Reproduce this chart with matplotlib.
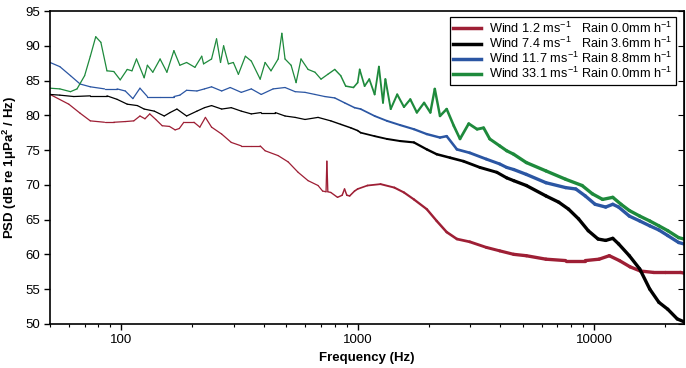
import numpy as np
import matplotlib.pyplot as plt
from matplotlib.collections import LineCollection
from matplotlib.ticker import LogLocator, NullFormatter, FixedLocator

plt.rcParams['font.family'] = ['Liberation Sans', 'DejaVu Sans']
plt.rcParams['mathtext.fontset'] = 'custom'
plt.rcParams['mathtext.rm'] = 'Liberation Sans'
plt.rcParams['mathtext.bf'] = 'Liberation Sans:bold'

# values (Hz, dB)
f_red = [50, 60, 67, 74, 85, 93, 104, 113, 120, 126, 132, 140, 149, 160, 169, 176, 184, 203,
         215, 227, 241, 266, 292, 322, 355, 387, 406, 461, 508, 560, 617, 680, 711, 735, 741,
         748, 770, 822, 860, 880, 900, 925, 970, 1000, 1100, 1250, 1430, 1570, 1730, 1960,
         2160, 2380, 2630, 2980, 3500, 3990, 4570, 5170, 6260, 7580, 9180, 10500, 11600,
         12800, 14200, 15700, 17800, 19900, 23200, 24000]
p_red = [83.0, 81.6, 80.3, 79.2, 79.0, 79.0, 79.1, 79.2, 79.9, 79.5, 80.2, 79.4, 78.5, 78.4,
         77.9, 78.1, 79.0, 79.0, 78.3, 79.7, 78.3, 77.3, 76.1, 75.6, 75.6, 75.6, 74.9, 74.2,
         73.3, 71.8, 70.6, 69.9, 69.1, 69.0, 73.4, 69.0, 68.9, 68.2, 68.5, 69.4, 68.5, 68.4,
         69.1, 69.4, 69.9, 70.1, 69.6, 68.9, 67.9, 66.5, 64.8, 63.2, 62.2, 61.8, 61.0, 60.5,
         60.0, 59.8, 59.3, 59.1, 59.1, 59.3, 59.8, 59.1, 58.2, 57.6, 57.4, 57.4, 57.4, 57.3]

f_black = [50, 55, 63, 74, 87, 96, 106, 117, 125, 138, 152, 161, 172, 189, 209, 225, 241, 266,
           292, 322, 355, 391, 448, 493, 544, 599, 680, 770, 848, 935, 1000, 1030, 1180, 1330,
           1510, 1730, 1960, 2160, 2460, 2800, 3290, 3880, 4270, 4570, 5170, 6260, 7090, 7800,
           8600, 9450, 10400, 11200, 12000, 12700, 14100, 15600, 17200, 18800, 20500, 22500,
           24000]
p_black = [83.0, 82.9, 82.7, 82.8, 82.8, 82.3, 81.6, 81.4, 80.9, 80.6, 79.9, 80.4, 80.9, 79.9,
           80.6, 81.1, 81.4, 80.9, 81.1, 80.6, 80.2, 80.4, 80.4, 79.9, 79.7, 79.4, 79.7, 79.2,
           78.7, 78.2, 77.8, 77.5, 77.0, 76.6, 76.3, 76.1, 75.1, 74.4, 73.9, 73.4, 72.5, 71.8,
           71.0, 70.6, 69.9, 68.4, 67.5, 66.5, 65.1, 63.4, 62.2, 62.0, 62.3, 61.5, 59.8, 57.9,
           55.0, 53.1, 52.1, 50.7, 50.3]

f_blue = [50, 55, 61, 67, 74, 85, 96, 104, 112, 120, 129, 146, 167, 177, 189, 209, 225, 241,
          266, 289, 322, 355, 391, 439, 493, 544, 599, 660, 726, 800, 880, 970, 1030, 1180,
          1330, 1510, 1730, 1960, 2230, 2380, 2630, 2980, 3500, 3990, 4270, 4570, 5170, 6260,
          7580, 8370, 9180, 10100, 11200, 12000, 12700, 14100, 15600, 17200, 18800, 20500,
          22800, 24000]
p_blue = [87.6, 87.0, 85.7, 84.5, 84.1, 83.8, 83.8, 83.5, 82.4, 83.9, 82.7, 82.7, 82.7, 82.9,
          83.6, 83.5, 83.8, 84.1, 83.5, 84.0, 83.3, 83.8, 83.0, 83.8, 84.0, 83.4, 83.3, 83.0,
          82.7, 82.5, 81.8, 81.1, 80.9, 79.9, 79.2, 78.6, 78.0, 77.3, 76.8, 77.0, 75.1, 74.6,
          73.7, 73.0, 72.5, 72.2, 71.5, 70.3, 69.6, 69.4, 68.4, 67.2, 66.8, 67.2, 66.8, 65.5,
          64.8, 64.1, 63.5, 62.7, 61.7, 61.5]

f_green = [50, 55, 61, 65, 70, 74, 78, 82, 87, 93, 99, 106, 111, 116, 125, 129, 136, 146, 156,
           167, 177, 189, 205, 219, 223, 241, 253, 263, 271, 284, 298, 313, 335, 355, 387, 406,
           430, 461, 478, 493, 523, 549, 576, 617, 660, 700, 748, 800, 848, 890, 960, 1000,
           1020, 1070, 1120, 1180, 1230, 1280, 1310, 1380, 1470, 1570, 1670, 1780, 1910, 2030,
           2120, 2230, 2380, 2550, 2710, 2950, 3200, 3410, 3620, 3990, 4270, 4570, 5170, 6260,
           7580, 8900, 9840, 10870, 12000, 13000, 14100, 15600, 17200, 18800, 20500, 22800,
           24000]
p_green = [83.9, 83.8, 83.4, 83.8, 85.7, 88.5, 91.3, 90.5, 86.4, 86.3, 85.1, 86.6, 86.4, 88.1,
           85.4, 87.2, 86.2, 88.1, 86.2, 89.3, 87.2, 87.6, 86.9, 88.5, 87.4, 88.1, 91.0, 87.6,
           90.0, 87.4, 87.6, 85.9, 88.5, 87.8, 85.2, 87.6, 86.4, 88.1, 91.8, 88.1, 87.2, 84.7,
           88.1, 86.6, 86.2, 85.2, 85.9, 86.6, 85.7, 84.2, 84.0, 84.7, 86.6, 84.2, 85.2, 83.0,
           87.0, 81.8, 85.2, 80.9, 83.0, 81.2, 82.3, 80.4, 81.8, 80.4, 83.8, 79.9, 80.9, 78.5,
           76.6, 78.8, 78.0, 78.2, 76.6, 75.6, 74.9, 74.4, 73.2, 72.0, 70.8, 69.9, 68.7, 67.9,
           68.2, 67.2, 66.3, 65.5, 64.8, 64.1, 63.4, 62.4, 62.2]

wind = ['1.2', '7.4', '11.7', '33.1']
rain = ['0.0', '3.6', '8.8', '0.0']
colors = ['#9e1f35', '#000000', '#2b56a3', '#1e8a3c']

series = [(f_red, p_red), (f_black, p_black), (f_blue, p_blue), (f_green, p_green)]


def width_for(f):
    # trace looks thicker where the spectrum is dense (high frequencies)
    t = np.clip((np.log10(f) - np.log10(700)) / (np.log10(5000) - np.log10(700)), 0, 1)
    return 0.9 + 1.5 * t


fig = plt.figure(figsize=(6.86, 3.68), dpi=100)
ax = fig.add_axes([0.073, 0.12, 0.924, 0.85])

handles = []
for (f, p), c, w, r in zip(series, colors, wind, rain):
    f = np.array(f, dtype=float)
    p = np.array(p)
    pts = np.column_stack([f, p]).reshape(-1, 1, 2)
    segs = np.concatenate([pts[:-1], pts[1:]], axis=1)
    mid = np.sqrt(f[:-1] * f[1:])
    lc = LineCollection(segs, colors=c, linewidths=width_for(mid), capstyle='round',
                        joinstyle='round')
    ax.add_collection(lc)
    gap = '   ' if len(w) == 3 else ' '
    lab = 'Wind %s ms$^{-1}$%sRain %smm h$^{-1}$' % (w, gap, r)
    h, = ax.plot([], [], color=c, lw=2.5, label=lab)
    handles.append(h)

ax.set_xscale('log')
ax.set_xlim(50, 24000)
ax.set_ylim(50, 95)
ax.set_yticks(np.arange(50, 96, 5))
ax.xaxis.set_major_locator(FixedLocator([100, 1000, 10000]))
ax.set_xticklabels(['100', '1000', '10000'])
ax.xaxis.set_minor_locator(LogLocator(base=10, subs=np.arange(2, 10)))
ax.xaxis.set_minor_formatter(NullFormatter())
ax.tick_params(axis='both', which='major', labelsize=9.5, direction='out', length=4, width=1)
ax.tick_params(axis='x', which='minor', direction='out', length=2.5, width=0.8)

sec = ax.secondary_yaxis('right')
sec.set_yticks(np.arange(50, 96, 5))
sec.tick_params(direction='in', length=4, labelright=False)

for s in ax.spines.values():
    s.set_linewidth(1.2)

ax.set_xlabel('Frequency (Hz)', fontweight='bold', fontsize=9.5, labelpad=4)
ax.set_ylabel(r'PSD (dB re 1μPa$^\mathbf{2}$ / Hz)', fontweight='bold', fontsize=9.5)

leg = ax.legend(handles=handles, loc='upper right', fontsize=9.2, handlelength=2.2,
                frameon=True, fancybox=False, edgecolor='black', framealpha=1,
                borderpad=0.25, labelspacing=0.0, handletextpad=0.6,
                bbox_to_anchor=(0.997, 1.0))
leg.get_frame().set_linewidth(0.9)

fig.savefig('out.png', dpi=100)
